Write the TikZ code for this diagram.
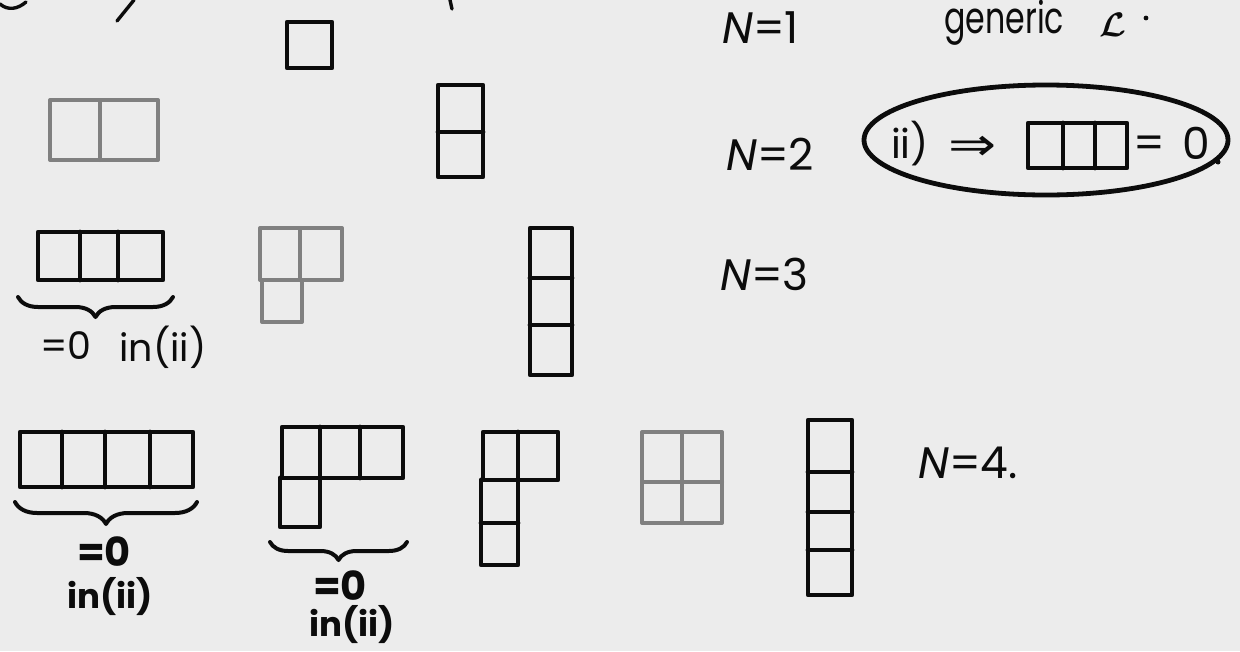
\documentclass[tikz,border=0pt]{standalone}
\usepackage{fontspec}
\setmainfont{Poppins}
\newfontfamily\symfont{DejaVu Sans}
\usetikzlibrary{decorations.pathreplacing,shapes.geometric}
\definecolor{paper}{RGB}{236,236,236}
\definecolor{inkc}{RGB}{12,12,12}
\definecolor{pencil}{RGB}{128,128,128}
\begin{document}
\begin{tikzpicture}[x=1pt,y=-1pt,
  ink/.style={draw=inkc, line width=4.8pt, line join=round, line cap=round},
  grey/.style={draw=pencil, line width=4pt, line join=round, line cap=round},
  lbl/.style={font=\fontsize{44}{44}\selectfont, text=inkc, inner sep=0pt},
  small/.style={font=\fontsize{38}{38}\selectfont, text=inkc, inner sep=0pt},
  boldl/.style={font=\fontsize{40}{40}\selectfont\bfseries, text=inkc, inner sep=0pt},
  boldin/.style={font=\fontsize{34}{34}\selectfont\bfseries, text=inkc, inner sep=0pt},
  bracestyle/.style={ink, line width=4pt, decorate, decoration={brace, amplitude=#1}}]
\clip (0,0) rectangle (1240,651);
\fill[paper] (0,0) rectangle (1240,651);

% cut-off fragments at the top edge
\draw[ink, line width=3.4pt] (0,4) .. controls (8,11) and (18,9) .. (26,2);
\draw[ink, line width=3.4pt] (134,0) -- (117,21);
\draw[ink, line width=3.4pt] (450,0) -- (452,9);

% labels on the right
\node[lbl, anchor=base west] (n1) at (722,43) {\textit{N}=1};
\node[text=inkc, inner sep=0pt, anchor=base west] (gen) at (944,33)
  {\scalebox{0.72}[1]{\fontsize{44}{44}\selectfont generic}};
\node[text=inkc, inner sep=0pt, anchor=base west] (cal) at (1099,36)
  {\fontsize{10}{10}\selectfont\scalebox{3.4}{\boldmath$\mathcal{L}$}};
\fill[inkc] (1146,18) circle (2.4pt);
\node[lbl, anchor=base west] (n2) at (726,170) {\textit{N}=2};
\node[lbl, anchor=base west] (n3) at (720,290) {\textit{N}=3};
\node[lbl, anchor=base west] (n4) at (918,478) {\textit{N}=4.};

% N = 1
\draw[ink] (287,22) rectangle (332,68);

% N = 2
\draw[grey] (50,100) rectangle (158,160) (100,100) -- (100,160);
\draw[ink] (438,85) rectangle (483,177) (438,132) -- (483,132);

% framed statement
\node[ink, ellipse, minimum width=364pt, minimum height=110pt] (oval) at (1046,140) {};
\node[font=\fontsize{40}{40}\selectfont, text=inkc, inner sep=0pt] (ii) at (910,144) {ii)};
\node[font=\symfont\fontsize{46}{46}\selectfont, text=inkc, inner sep=0pt] (impl) at (973,148) {\scalebox{1.25}[1]{⇒}};
\draw[ink] (1028,123) rectangle (1127,168) (1063,123) -- (1063,168) (1095,123) -- (1095,168);
\node[font=\fontsize{44}{44}\selectfont, text=inkc, inner sep=0pt] (eq) at (1149,147) {=};
\node[font=\fontsize{44}{44}\selectfont, text=inkc, inner sep=0pt] (zero) at (1196,143) {0};
\fill[inkc] (1218,162) circle (2.5pt);

% N = 3
\draw[ink] (38,232) rectangle (163,280) (80,232) -- (80,280) (118,232) -- (118,280);
\draw[bracestyle=20pt] (173,297) -- (18,297);
\node[small] (z3) at (66,346) {=0};
\node[small] (i3) at (163,347) {in(ii)};
\draw[grey] (260,228) rectangle (342,280) (300,228) -- (300,280)
  (262,280) -- (262,322) -- (302,322) -- (302,280);
\draw[ink] (530,228) rectangle (572,375) (530,278) -- (572,278) (530,325) -- (572,325);

% N = 4
\draw[ink] (20,432) rectangle (193,487) (62,432) -- (62,487) (105,432) -- (105,487) (150,432) -- (150,487);
\draw[bracestyle=22pt] (197,502) -- (15,502);
\node[boldl] (z4a) at (104,552) {=0};
\node[boldin] (i4a) at (110,597) {in(ii)};

\draw[ink] (282,427) rectangle (403,478) (320,427) -- (320,478) (360,427) -- (360,478)
  (280,478) -- (280,527) -- (320,527) -- (320,478);
\draw[bracestyle=18pt] (407,542) -- (270,542);
\node[boldl] (z4b) at (340,586) {=0};
\node[boldin] (i4b) at (352,625) {in(ii)};

\draw[ink] (483,432) rectangle (558,480) (518,432) -- (518,480)
  (481,480) -- (481,565) -- (518,565) -- (518,480) (481,523) -- (518,523);
\draw[grey] (642,432) rectangle (722,523) (682,432) -- (682,523) (642,482) -- (722,482);
\draw[ink] (808,420) rectangle (852,595) (808,472) -- (852,472) (808,512) -- (852,512) (808,550) -- (852,550);
\end{tikzpicture}
\end{document}
